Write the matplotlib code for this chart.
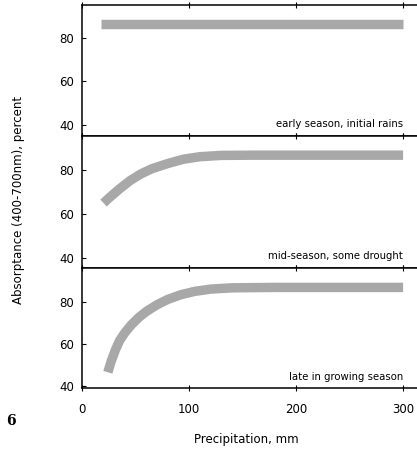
import matplotlib.pyplot as plt
import numpy as np

# precipitation (mm) vs absorptance (%), band centres
x_early = [18, 100, 200, 300]
y_early = [86, 86, 86, 86]

x_mid = [20, 25, 35, 45, 55, 65, 80, 95, 110, 130, 160, 220, 300]
y_mid = [65, 67.3, 71.5, 75.3, 78.3, 80.6, 83, 85, 86.1, 86.7, 86.8, 86.8, 86.8]

x_late = [24, 27, 31, 35, 40, 46, 53, 60, 70, 80, 92, 105, 120, 140, 180, 240, 300]
y_late = [46.5, 51.5, 57, 61.5, 65.3, 69, 72.5, 75.3, 78.5, 81, 83.2, 84.8, 85.9, 86.5, 86.7, 86.7, 86.7]

labels = ['early season, initial rains', 'mid-season, some drought', 'late in growing season']

plt.rcParams['font.family'] = 'DejaVu Sans'
fig = plt.figure(figsize=(4.17, 4.55), dpi=100)

# axes boxes in figure fractions (left, bottom, width, height)
boxes = [(0.197, 0.701, 0.803, 0.287),
         (0.197, 0.411, 0.803, 0.290),
         (0.197, 0.147, 0.803, 0.264)]
ylims = [(34.9, 94.7), (35.5, 95.5), (39.0, 95.9)]
series = [(x_early, y_early), (x_mid, y_mid), (x_late, y_late)]

for i, (box, yl, (xs, ys), lab) in enumerate(zip(boxes, ylims, series, labels)):
    ax = fig.add_axes(box)
    ax.plot(xs, ys, color='#a8a8a8', lw=6.8, solid_capstyle='butt', solid_joinstyle='round')
    ax.set_xlim(0, 313)
    ax.set_ylim(*yl)
    ax.set_yticks([40, 60, 80])
    ax.set_xticks([0, 100, 200, 300])
    ax.spines['right'].set_visible(False)
    for s in ax.spines.values():
        s.set_linewidth(1.1)
    ax.tick_params(axis='y', direction='in', length=3, labelsize=8.5, pad=6)
    ax.tick_params(axis='x', direction='inout', length=4, top=True, labelsize=8.5, pad=9)
    if i < 2:
        ax.tick_params(axis='x', labelbottom=False)
    ax.text(300, yl[0] + 5.5, lab, ha='right', va='center', fontsize=7.3)

fig.text(0.045, 0.56, 'Absorptance (400-700nm), percent', rotation=90,
         ha='center', va='center', fontsize=8.5)
fig.text(0.59, 0.033, 'Precipitation, mm', ha='center', va='center', fontsize=8.5)
fig.text(0.027, 0.075, '6', ha='center', va='center', fontsize=10,
         fontweight='bold', family='DejaVu Serif')

fig.savefig('out.png', dpi=100)
